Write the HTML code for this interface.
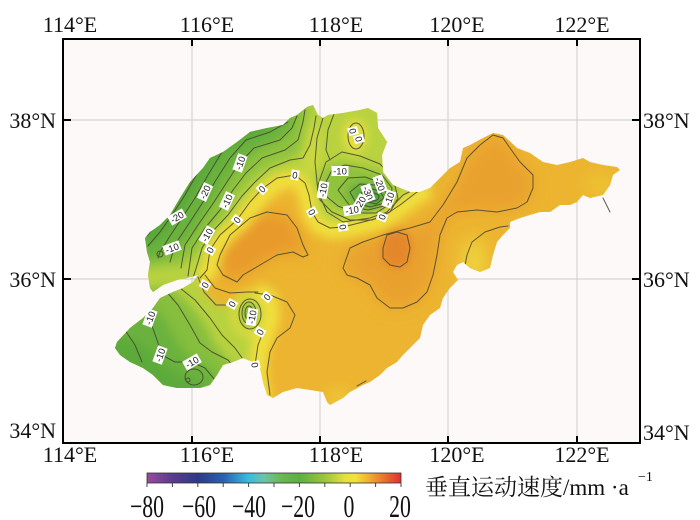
<!DOCTYPE html>
<html><head><meta charset="utf-8">
<style>
html,body{margin:0;padding:0;background:#fff;}
svg{display:block;}
.ax{font-family:"Liberation Serif","Noto Serif CJK SC",serif;font-size:22px;fill:#111;}
.cl{fill:none;stroke:#45432f;stroke-width:1;stroke-linejoin:round;stroke-linecap:round;opacity:.85}
.lb{font-family:"Liberation Sans",sans-serif;font-size:9.5px;fill:#222;text-anchor:middle;}
.cb{font-family:"Liberation Serif",serif;font-size:32px;fill:#111;text-anchor:middle;}
</style></head><body>
<svg width="700" height="520" viewBox="0 0 700 520" xmlns="http://www.w3.org/2000/svg">
<defs>
  <clipPath id="sd">
    <path d="M297,115 L307,107 L313,105 L318,115 L323,118 L328,115 L343,113 L360,110 L368,108 L377,113 L378,128 L387,142 L382,155 L383,172 L393,185 L410,192 L420,192 L430,188 L440,178 L450,168 L460,162 L463,148 L470,145 L483,138 L493,133 L503,135 L517,148 L530,153 L543,162 L557,165 L570,162 L583,158 L590,162 L603,165 L617,167 L620,170 L613,175 L610,185 L603,195 L590,198 L583,195 L577,202 L570,205 L560,205 L550,212 L540,212 L530,215 L520,218 L510,222 L510,228 L503,235 L497,242 L493,255 L490,268 L480,272 L470,268 L463,262 L457,265 L453,272 L458,280 L450,288 L443,298 L440,308 L430,315 L423,325 L420,338 L410,348 L403,355 L397,362 L387,368 L380,375 L370,382 L363,385 L350,392 L343,398 L330,405 L327,402 L323,392 L310,390 L297,388 L283,392 L273,398 L267,395 L263,382 L260,368 L253,362 L243,358 L233,362 L223,365 L217,375 L210,385 L200,388 L190,388 L177,388 L163,385 L153,375 L143,368 L130,362 L120,355 L115,348 L117,342 L130,328 L143,318 L153,308 L160,298 L173,292 L183,288 L193,282 L198,275 L187,278 L177,280 L163,285 L153,292 L150,288 L148,275 L150,262 L147,252 L145,238 L150,232 L160,225 L170,215 L180,198 L190,182 L203,168 L210,158 L223,152 L237,142 L250,132 L267,128 L283,125 L290,118 Z"/>
  </clipPath>
  <filter id="b8" filterUnits="userSpaceOnUse" x="0" y="0" width="700" height="520"><feGaussianBlur stdDeviation="8"/></filter>
  <filter id="b6" filterUnits="userSpaceOnUse" x="0" y="0" width="700" height="520"><feGaussianBlur stdDeviation="6"/></filter>
  <filter id="b5" filterUnits="userSpaceOnUse" x="0" y="0" width="700" height="520"><feGaussianBlur stdDeviation="5"/></filter>
  <filter id="b4" filterUnits="userSpaceOnUse" x="0" y="0" width="700" height="520"><feGaussianBlur stdDeviation="4"/></filter>
  <linearGradient id="cbar" x1="0" x2="1" y1="0" y2="0">
    <stop offset="0" stop-color="#9a4a9c"/>
    <stop offset="0.1" stop-color="#5a3c8e"/>
    <stop offset="0.2" stop-color="#2c3a88"/>
    <stop offset="0.3" stop-color="#2a60b0"/>
    <stop offset="0.4" stop-color="#38bce0"/>
    <stop offset="0.46" stop-color="#6cc4a8"/>
    <stop offset="0.53" stop-color="#6ab850"/>
    <stop offset="0.6" stop-color="#5cb040"/>
    <stop offset="0.7" stop-color="#9cc43c"/>
    <stop offset="0.78" stop-color="#e6e03c"/>
    <stop offset="0.82" stop-color="#f2e23a"/>
    <stop offset="0.88" stop-color="#f0a830"/>
    <stop offset="1" stop-color="#e03030"/>
  </linearGradient>
</defs>

<rect x="0" y="0" width="700" height="520" fill="#fff"/>
<rect x="63" y="39" width="577" height="404" fill="#fdf9f8"/>

<g stroke="#cdcdcd" stroke-width="1">
  <line x1="192" y1="39" x2="192" y2="443"/>
  <line x1="320" y1="39" x2="320" y2="443"/>
  <line x1="448" y1="39" x2="448" y2="443"/>
  <line x1="577" y1="39" x2="577" y2="443"/>
  <line x1="63" y1="120" x2="640" y2="120"/>
  <line x1="63" y1="279" x2="640" y2="279"/>
</g>

<g clip-path="url(#sd)">
  <rect x="100" y="90" width="530" height="330" fill="#ecb430"/>
  <g filter="url(#b8)">
    <path fill="#e9a12d" d="M343,268 L350,248 L363,242 L383,235 L410,228 L430,222 L443,205 L457,182 L467,158 L480,145 L493,135 L503,138 L510,148 L520,162 L533,175 L533,188 L527,202 L517,208 L497,212 L477,210 L457,212 L447,218 L440,235 L437,255 L433,275 L427,292 L417,302 L403,308 L390,308 L377,298 L370,285 L357,278 L347,275 Z"/>
    <path fill="#e89a2c" d="M217,265 L220,255 L230,235 L250,218 L267,212 L287,215 L297,228 L303,245 L308,255 L303,257 L293,252 L277,255 L260,265 L243,275 L237,282 L223,275 Z"/>
    <ellipse cx="474" cy="262" rx="14" ry="24" fill="#eed03a"/>
    <ellipse cx="338" cy="398" rx="9" ry="7" fill="#eed83a"/>
    <ellipse cx="600" cy="185" rx="16" ry="12" fill="#edc232"/>
  </g>
  <g filter="url(#b4)">
    <path fill="#e4872a" d="M381,248 L386,233 L397,229 L409,234 L412,248 L409,263 L400,269 L389,267 L381,258 Z"/>
  </g>
  <g filter="url(#b4)">
    <path fill="#b8d240" d="M262,420 L262,400 L257,382 L255,365 L258,345 L264,330 L268,315 L266,300 L255,294 L240,297 L232,305 L218,306 L205,292 L200,280 L207,270 L210,250 L220,235 L237,220 L250,202 L262,189 L277,178 L295,175 L305,183 L309,195 L312,212 L318,222 L330,228 L343,227 L363,222 L382,217 L400,205 L417,192 L428,187 L436,175 L420,150 L420,85 L100,85 L100,420 Z"/>
  </g>
  <g filter="url(#b5)">
    <ellipse cx="312" cy="150" rx="9" ry="28" fill="#cbd840"/>
    <ellipse cx="355" cy="136" rx="12" ry="17" fill="#e6e03e"/>
    <path fill="#8ec23e" d="M140,268 L180,265 L198,252 L210,235 L224,215 L238,195 L252,178 L270,165 L292,158 L303,150 L308,120 L310,95 L130,95 Z"/>
    <path fill="#6ab23e" d="M140,262 L165,258 L185,245 L198,228 L212,205 L225,185 L240,165 L258,150 L280,140 L292,130 L296,95 L130,95 Z"/>
    <path fill="#58a83a" d="M140,248 L150,245 L168,232 L182,212 L196,190 L210,170 L228,150 L250,138 L270,130 L278,95 L130,95 Z"/>
    <path fill="#8fc23e" d="M318,178 L326,166 L342,162 L362,166 L382,172 L394,184 L394,200 L386,212 L370,217 L350,214 L334,206 L322,195 Z"/>
    <path fill="#62ae3c" d="M346,190 L356,182 L372,182 L386,190 L390,200 L382,208 L366,210 L352,204 Z"/>
    <ellipse cx="372" cy="196" rx="10" ry="7" fill="#3f9e3c"/>
    <path fill="#86be3e" d="M172,288 L190,305 L205,325 L215,345 L228,360 L240,372 L245,395 L245,420 L100,420 L100,288 Z"/>
    <path fill="#6ab23e" d="M140,300 L150,305 L165,318 L175,338 L185,352 L200,362 L215,372 L222,395 L222,420 L100,420 L100,300 Z"/>
    <path fill="#5caa3a" d="M110,335 L140,342 L160,362 L185,378 L205,385 L205,420 L100,420 Z"/>
    <ellipse cx="249" cy="313" rx="7" ry="12" fill="#7fbc3e"/>
  </g>
  <g filter="url(#b5)">
    <path fill="none" stroke="#f0e03c" stroke-width="18" d="M262,420 L262,400 L259,382 L258,365 L261,345 L267,330 L271,315 L268,298 L255,291"/>
    <path fill="none" stroke="#f0e03c" stroke-width="16" d="M200,278 L210,270 L214,250 L224,237 L241,222 L254,205 L266,192 L280,182 L296,179 L303,186 L307,197 L310,214 L317,225 L330,231 L343,230 L363,226 L382,221 L400,209 L417,196 L430,190"/>
    <ellipse cx="250" cy="314" rx="15" ry="20" fill="none" stroke="#eadf3e" stroke-width="6"/>
  </g>

  <g class="cl">
    <path d="M200,278 L207,270 L210,250 L220,235 L237,220 L250,202 L262,189 L277,178 L295,175 L305,183 L309,195 L312,212 L318,222 L330,228 L343,227 L363,222 L382,217 L400,205 L417,192 L430,186"/>
    <path d="M193,278 L198,262 L202,248 L212,232 L228,215 L242,196 L255,182 L270,168 L290,160 L303,158 L310,145 L314,128 L316,116"/>
    <path d="M188,276 L190,262 L192,248 L205,228 L220,210 L233,190 L246,173 L262,158 L285,150 L298,140 L303,122 L305,110"/>
    <path d="M181,268 L182,262 L185,245 L198,225 L212,205 L225,185 L238,165 L254,148 L280,140 L292,128 L297,116"/>
    <path d="M170,262 L172,255 L178,240 L190,222 L203,202 L216,180 L230,158 L246,140 L270,132 L288,122"/>
    <path d="M158,258 L160,252 L170,236 L182,218 L195,198 L208,175 L222,152 L240,135 L262,128 L283,124"/>
    <path d="M148,246 L160,232 L172,215 L185,195 L198,172 L212,150 L230,135 L255,128"/>
    <path d="M147,236 L158,222 L170,205 L182,188 L195,165 L208,152"/>
    <circle cx="160" cy="254" r="3"/>
    <path d="M323,118 L317,138 L315,162 L318,192 L327,212 L343,222 L370,218 L387,212 L403,195 L417,188"/>
    <path d="M334,114 L328,130 L326,150 L330,160"/>
    <ellipse cx="356" cy="136" rx="8" ry="13"/>
    <path d="M318,185 L326,162 L342,152 L360,156 L380,164 L393,178 L398,198 L390,212 L372,220 L350,220 L332,212 L320,200 Z"/>
    <path d="M324,186 L332,170 L345,165 L363,168 L382,175 L392,188 L390,204 L376,213 L356,213 L338,206 L326,196 Z"/>
    <path d="M338,190 L348,178 L365,177 L382,183 L390,194 L384,206 L368,210 L350,206 Z"/>
    <path d="M350,192 L360,184 L375,185 L386,192 L385,203 L370,207 L356,203 Z"/>
    <path d="M360,194 L368,188 L380,191 L384,198 L376,204 L364,201 Z"/>
    <ellipse cx="373" cy="197" rx="6" ry="4"/>
    <path d="M343,268 L350,248 L363,242 L383,235 L410,228 L430,222 L443,205 L457,182 L467,158 L480,145 L493,135 L503,138 L510,148 L520,162 L533,175 L533,188 L527,202 L517,208 L497,212 L477,210 L457,212 L447,218 L440,235 L437,255 L433,275 L427,292 L417,302 L403,308 L390,308 L377,298 L370,285 L357,278 L347,275 Z"/>
    <path d="M383,248 L387,235 L397,232 L407,235 L410,248 L407,262 L400,267 L390,265 L383,258 Z"/>
    <path d="M217,265 L220,255 L230,235 L250,218 L267,212 L287,215 L297,228 L303,245 L308,255 L303,257 L293,252 L277,255 L260,265 L243,275 L237,282 L223,275 Z"/>
    <path d="M198,277 L204,292 L216,305 L232,305"/>
    <path d="M205,275 L215,288 L230,293 L247,292 L258,292"/>
    <path d="M264,330 L258,345 L255,365 L257,382 L262,400"/>
    <path d="M255,293 L270,295 L287,302 L295,315 L290,328 L277,338 L270,352 L267,372 L270,395"/>
    <ellipse cx="249" cy="313" rx="4" ry="7"/>
    <ellipse cx="249" cy="313" rx="7" ry="11"/>
    <ellipse cx="250" cy="314" rx="11" ry="15"/>
    <path d="M140,310 L150,320 L157,340 L162,355 L175,362 L192,362 L205,368 L215,380 L218,392"/>
    <path d="M165,290 L178,305 L190,325 L200,343 L212,352 L228,360 L238,372 L242,390"/>
    <path d="M180,288 L195,300 L210,318 L222,335 L235,348 L245,362 L250,380 L252,395"/>
    <path d="M125,330 L135,345 L142,362"/>
    <ellipse cx="194" cy="377" rx="9" ry="8"/>
    <circle cx="188" cy="380" r="2"/>
    <path d="M463,276 L467,255 L472,242 L485,232 L500,227 L508,226"/>
  </g>
</g>
<path class="cl" d="M603,198 L610,212"/>
<path class="cl" d="M357,386 L366,381"/>

<g>
  <g transform="translate(240,163) rotate(-70)"><rect x="-8.5" y="-5" width="17" height="10" fill="#fff"/><text class="lb" y="3.5">-10</text></g>
  <g transform="translate(205,192) rotate(-65)"><rect x="-8.5" y="-5" width="17" height="10" fill="#fff"/><text class="lb" y="3.5">-20</text></g>
  <g transform="translate(227,201) rotate(-65)"><rect x="-8.5" y="-5" width="17" height="10" fill="#fff"/><text class="lb" y="3.5">-10</text></g>
  <g transform="translate(177,217) rotate(-30)"><rect x="-8.5" y="-5" width="17" height="10" fill="#fff"/><text class="lb" y="3.5">-20</text></g>
  <g transform="translate(207,235) rotate(-60)"><rect x="-8.5" y="-5" width="17" height="10" fill="#fff"/><text class="lb" y="3.5">-10</text></g>
  <g transform="translate(172,248) rotate(-20)"><rect x="-8.5" y="-5" width="17" height="10" fill="#fff"/><text class="lb" y="3.5">-10</text></g>
  <g transform="translate(237,220) rotate(-55)"><rect x="-4" y="-5" width="8" height="10" fill="#fff"/><text class="lb" y="3.5">0</text></g>
  <g transform="translate(262,189) rotate(-45)"><rect x="-4" y="-5" width="8" height="10" fill="#fff"/><text class="lb" y="3.5">0</text></g>
  <g transform="translate(295,175) rotate(10)"><rect x="-4" y="-5" width="8" height="10" fill="#fff"/><text class="lb" y="3.5">0</text></g>
  <g transform="translate(210,250) rotate(-60)"><rect x="-4" y="-5" width="8" height="10" fill="#fff"/><text class="lb" y="3.5">0</text></g>
  <g transform="translate(353,131) rotate(75)"><rect x="-4" y="-5" width="8" height="10" fill="#fff"/><text class="lb" y="3.5">0</text></g>
  <g transform="translate(359,139) rotate(75)"><rect x="-4" y="-5" width="8" height="10" fill="#fff"/><text class="lb" y="3.5">0</text></g>
  <g transform="translate(340,171)"><rect x="-8.5" y="-5" width="17" height="10" fill="#fff"/><text class="lb" y="3.5">-10</text></g>
  <g transform="translate(323,190) rotate(-80)"><rect x="-8.5" y="-5" width="17" height="10" fill="#fff"/><text class="lb" y="3.5">-10</text></g>
  <g transform="translate(368,193) rotate(70)"><rect x="-8.5" y="-5" width="17" height="10" fill="#fff"/><text class="lb" y="3.5">-30</text></g>
  <g transform="translate(380,184) rotate(70)"><rect x="-8.5" y="-5" width="17" height="10" fill="#fff"/><text class="lb" y="3.5">-20</text></g>
  <g transform="translate(389,199) rotate(-70)"><rect x="-8.5" y="-5" width="17" height="10" fill="#fff"/><text class="lb" y="3.5">-10</text></g>
  <g transform="translate(360,203) rotate(-60)"><rect x="-8.5" y="-5" width="17" height="10" fill="#fff"/><text class="lb" y="3.5">-20</text></g>
  <g transform="translate(352,210) rotate(-10)"><rect x="-8.5" y="-5" width="17" height="10" fill="#fff"/><text class="lb" y="3.5">-10</text></g>
  <g transform="translate(312,212) rotate(60)"><rect x="-4" y="-5" width="8" height="10" fill="#fff"/><text class="lb" y="3.5">0</text></g>
  <g transform="translate(343,227) rotate(80)"><rect x="-4" y="-5" width="8" height="10" fill="#fff"/><text class="lb" y="3.5">0</text></g>
  <g transform="translate(382,217) rotate(-70)"><rect x="-4" y="-5" width="8" height="10" fill="#fff"/><text class="lb" y="3.5">0</text></g>
  <g transform="translate(205,285) rotate(-60)"><rect x="-4" y="-5" width="8" height="10" fill="#fff"/><text class="lb" y="3.5">0</text></g>
  <g transform="translate(232,304) rotate(-60)"><rect x="-4" y="-5" width="8" height="10" fill="#fff"/><text class="lb" y="3.5">0</text></g>
  <g transform="translate(267,297) rotate(-50)"><rect x="-4" y="-5" width="8" height="10" fill="#fff"/><text class="lb" y="3.5">0</text></g>
  <g transform="translate(252,317) rotate(-80)"><rect x="-8.5" y="-5" width="17" height="10" fill="#fff"/><text class="lb" y="3.5">-10</text></g>
  <g transform="translate(260,332) rotate(-60)"><rect x="-4" y="-5" width="8" height="10" fill="#fff"/><text class="lb" y="3.5">0</text></g>
  <g transform="translate(255,365) rotate(80)"><rect x="-4" y="-5" width="8" height="10" fill="#fff"/><text class="lb" y="3.5">0</text></g>
  <g transform="translate(150,318) rotate(-70)"><rect x="-8.5" y="-5" width="17" height="10" fill="#fff"/><text class="lb" y="3.5">-10</text></g>
  <g transform="translate(160,355) rotate(-70)"><rect x="-8.5" y="-5" width="17" height="10" fill="#fff"/><text class="lb" y="3.5">-10</text></g>
  <g transform="translate(192,362) rotate(-30)"><rect x="-8.5" y="-5" width="17" height="10" fill="#fff"/><text class="lb" y="3.5">-10</text></g>
</g>

<rect x="63" y="39" width="577" height="404" fill="none" stroke="#000" stroke-width="2"/>
<g stroke="#000" stroke-width="2">
  <line x1="192" y1="39" x2="192" y2="46"/>
  <line x1="320" y1="39" x2="320" y2="46"/>
  <line x1="448" y1="39" x2="448" y2="46"/>
  <line x1="577" y1="39" x2="577" y2="46"/>
  <line x1="192" y1="443" x2="192" y2="436"/>
  <line x1="320" y1="443" x2="320" y2="436"/>
  <line x1="448" y1="443" x2="448" y2="436"/>
  <line x1="577" y1="443" x2="577" y2="436"/>
  <line x1="63" y1="120" x2="71" y2="120"/>
  <line x1="63" y1="279" x2="71" y2="279"/>
  <line x1="640" y1="120" x2="632" y2="120"/>
  <line x1="640" y1="279" x2="632" y2="279"/>
</g>

<g class="ax" text-anchor="middle">
  <text x="70" y="32">114°E</text>
  <text x="207" y="32">116°E</text>
  <text x="336" y="32">118°E</text>
  <text x="457" y="32">120°E</text>
  <text x="582" y="32">122°E</text>
  <text x="70" y="462">114°E</text>
  <text x="207" y="462">116°E</text>
  <text x="336" y="462">118°E</text>
  <text x="457" y="462">120°E</text>
  <text x="582" y="462">122°E</text>
</g>
<g class="ax" text-anchor="end">
  <text x="56" y="128">38°N</text>
  <text x="56" y="287">36°N</text>
  <text x="56" y="438">34°N</text>
</g>
<g class="ax" text-anchor="start">
  <text x="643" y="128">38°N</text>
  <text x="643" y="287">36°N</text>
  <text x="643" y="440">34°N</text>
</g>

<rect x="147" y="473" width="254" height="10" fill="url(#cbar)" stroke="#333" stroke-width="0.8"/>
<g stroke="#444" stroke-width="1">
  <line x1="147" y1="483" x2="147" y2="487"/>
  <line x1="172.4" y1="483" x2="172.4" y2="487"/>
  <line x1="197.8" y1="483" x2="197.8" y2="487"/>
  <line x1="223.2" y1="483" x2="223.2" y2="487"/>
  <line x1="248.6" y1="483" x2="248.6" y2="487"/>
  <line x1="274" y1="483" x2="274" y2="487"/>
  <line x1="299.4" y1="483" x2="299.4" y2="487"/>
  <line x1="324.8" y1="483" x2="324.8" y2="487"/>
  <line x1="350.2" y1="483" x2="350.2" y2="487"/>
  <line x1="375.6" y1="483" x2="375.6" y2="487"/>
  <line x1="401" y1="483" x2="401" y2="487"/>
</g>
<text class="cb" transform="translate(147,517) scale(0.68,1)">−80</text>
<text class="cb" transform="translate(199,517) scale(0.68,1)">−60</text>
<text class="cb" transform="translate(249,517) scale(0.68,1)">−40</text>
<text class="cb" transform="translate(298,517) scale(0.68,1)">−20</text>
<text class="cb" transform="translate(349,517) scale(0.68,1)">0</text>
<text class="cb" transform="translate(400,517) scale(0.68,1)">20</text>

<text x="425" y="495" font-size="23" fill="#111" font-family="'Liberation Serif','Noto Serif CJK SC',serif">垂直运动速度/mm ·a</text>
<text x="638" y="481" font-size="14" fill="#111" font-family="'Liberation Serif',serif">−1</text>
</svg>
</body></html>
